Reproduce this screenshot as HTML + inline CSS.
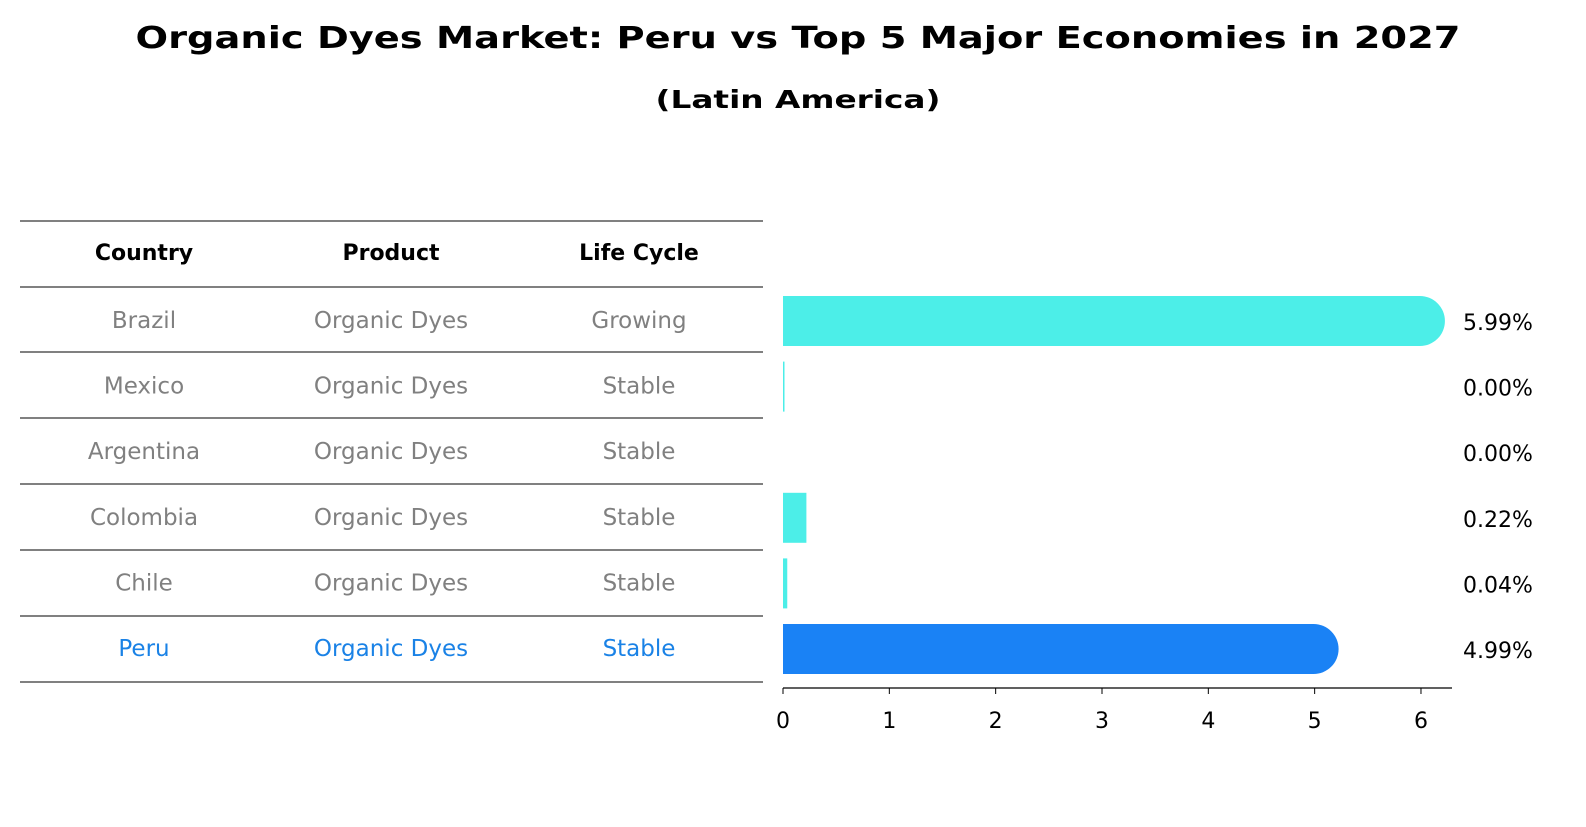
<!DOCTYPE html>
<html><head><meta charset="utf-8"><style>
body{margin:0;background:#fff;width:1586px;height:823px;overflow:hidden;font-family:"DejaVu Sans","Liberation Sans",sans-serif}
svg text{font-family:"DejaVu Sans","Liberation Sans",sans-serif}
</style></head><body>
<svg id="c" width="1586" height="823">
<text x="798" y="48" text-anchor="middle" font-size="30" font-weight="bold" textLength="1325" lengthAdjust="spacingAndGlyphs">Organic Dyes Market: Peru vs Top 5 Major Economies in 2027</text>
<text x="798" y="108" text-anchor="middle" font-size="25" font-weight="bold" textLength="285" lengthAdjust="spacingAndGlyphs">(Latin America)</text>
<g id="tbl"></g>
<g id="bars"></g>
</svg>
<script>
const countries=["Brazil","Mexico","Argentina","Colombia","Chile","Peru"];
const products=["Organic Dyes","Organic Dyes","Organic Dyes","Organic Dyes","Organic Dyes","Organic Dyes"];
const lifeCycles=["Growing","Stable","Stable","Stable","Stable","Stable"];
const values=[5.99,0.00,0.00,0.22,0.04,4.99];
const tickLabels=[0,1,2,3,4,5,6];
const NS="http://www.w3.org/2000/svg";
function mk(t,a,p){const e=document.createElementNS(NS,t);for(const k in a)e.setAttribute(k,a[k]);p.appendChild(e);return e;}
const tbl=document.getElementById('tbl'),bars=document.getElementById('bars');
const x=v=>783+v*106.33;
const rowY=i=>321+i*65.6;
const lineYs=[221,287,352,418,484,550,616,682];
lineYs.forEach(y=>{const l=mk('line',{x1:20,x2:763,y1:y,y2:y,stroke:'#000','stroke-width':1},tbl);

});
const colX=[144,391,639],heads=["Country","Product","Life Cycle"];
heads.forEach((h,j)=>{const t=mk('text',{x:colX[j],y:260,'text-anchor':'middle','font-size':22,'font-weight':'bold'},tbl);t.textContent=h;

});
countries.forEach((c,i)=>{const col=i==5?'#1a82e6':'#808080';
[c,products[i],lifeCycles[i]].forEach((s,j)=>{const t=mk('text',{x:colX[j],y:rowY(i)+7,'text-anchor':'middle','font-size':23,fill:col},tbl);t.textContent=s;

});
const v=values[i],fill=i==5?'#1a82f5':'#4ceee8',cy=rowY(i);
if(v>0){const w=Math.max(x(v)-x(0),1);
const r=mk('rect',{x:x(0),y:cy-25,width:w,height:50,fill:fill},bars);


if(v>1){const cap=mk('circle',{cx:x(v),cy:cy,r:25,fill:fill},bars);

}}
else if(i==1){const r=mk('rect',{x:x(0),y:cy-25,width:1.5,height:50,fill:fill},bars);

}
const t=mk('text',{x:1463,y:cy+9,'font-size':22},bars);t.textContent=v.toFixed(2)+'%';

});
const ax=mk('line',{x1:783,x2:1452,y1:688,y2:688,stroke:'#000','stroke-width':1.2},bars);


tickLabels.forEach(v=>{const l=mk('line',{x1:x(v),x2:x(v),y1:688,y2:694,stroke:'#000'},bars);


const t=mk('text',{x:x(v),y:728,'text-anchor':'middle','font-size':22},bars);t.textContent=v;

});
</script>
</body></html>
